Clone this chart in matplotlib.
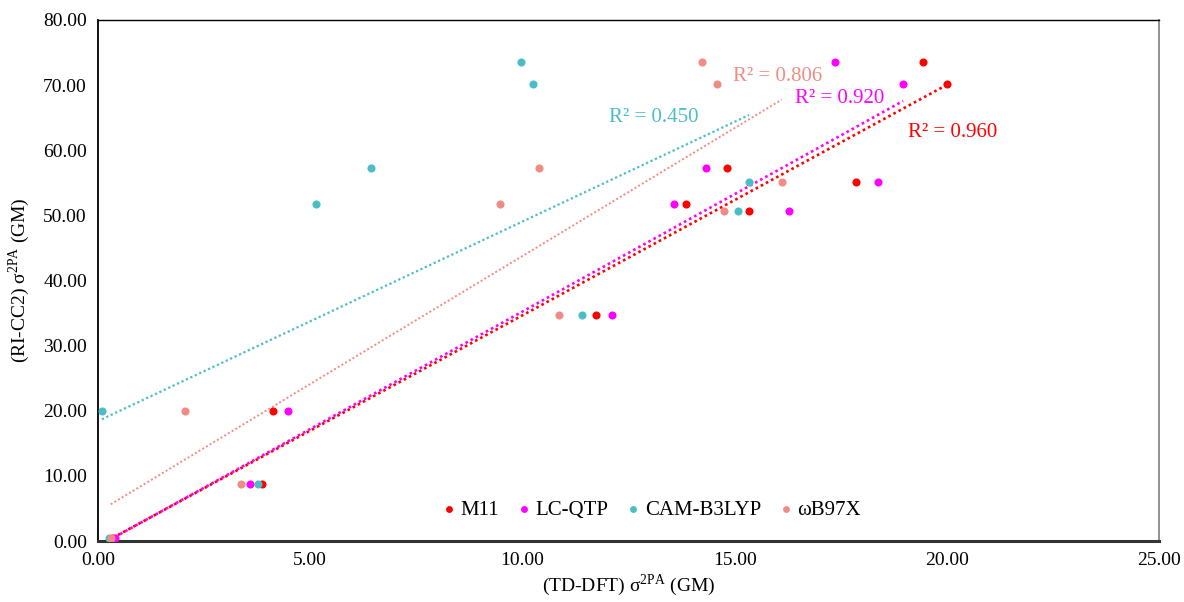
import numpy as np
import matplotlib
matplotlib.use('Agg')
import matplotlib.pyplot as plt

plt.rcParams.update({
    'font.family': 'serif',
    'font.serif': ['Liberation Serif', 'DejaVu Serif'],
    'mathtext.fontset': 'custom',
    'mathtext.rm': 'Liberation Serif',
    'font.size': 14,
})

# RI-CC2 reference values (same for all functionals)
ricc2 = [73.5, 70.2, 57.3, 55.1, 51.8, 50.6, 34.7, 20.0, 8.7, 0.4]

# TD-DFT values per functional
m11 = [19.45, 20.00, 14.82, 17.85, 13.86, 15.35, 11.74, 4.13, 3.87, 0.35]
lcqtp = [17.37, 18.97, 14.32, 18.37, 13.56, 16.27, 12.12, 4.47, 3.57, 0.40]
camb3lyp = [9.97, 10.24, 6.43, 15.34, 5.14, 15.09, 11.41, 0.09, 3.76, 0.26]
wb97x = [14.22, 14.58, 10.39, 16.11, 9.46, 14.75, 10.87, 2.05, 3.38, 0.30]

names = ['M11', 'LC-QTP', 'CAM-B3LYP', 'ωB97X']
r2_text = ['0.960', '0.920', '0.450', '0.806']
r2_pos = [(19.08, 62.7), (16.42, 67.9), (12.04, 65.1), (14.96, 71.3)]
colors = ['#FF0000', '#FF00FF', '#4ABDC6', '#F08C84']
trend_lw = [1.9, 1.9, 1.6, 1.4]

fig = plt.figure(figsize=(11.84, 6.02), dpi=100)
ax = fig.add_axes([0.0828, 0.1013, 0.8961, 0.8655])

series = [m11, lcqtp, camb3lyp, wb97x]
for xs, name, c, lw in zip(series, names, colors, trend_lw):
    x = np.array(xs)
    y = np.array(ricc2)
    ax.scatter(x, y, s=34, color=c, label=name, zorder=3, linewidths=0)
    k, b = np.polyfit(x, y, 1)
    xx = np.array([x.min(), x.max()])
    ax.plot(xx, k * xx + b, linestyle=(0, (1, 1.2)), color=c, lw=lw, zorder=2)

for txt, (px, py), c in zip(r2_text, r2_pos, colors):
    ax.text(px, py, f'R² = {txt}', color=c, fontsize=15, ha='left', va='center')

ax.set_xlim(0, 25)
ax.set_ylim(0, 80)
ax.set_xticks(np.arange(0, 26, 5))
ax.set_yticks(np.arange(0, 81, 10))
ax.xaxis.set_major_formatter(matplotlib.ticker.FormatStrFormatter('%.2f'))
ax.yaxis.set_major_formatter(matplotlib.ticker.FormatStrFormatter('%.2f'))
ax.tick_params(length=0, labelsize=14, pad=8)

ax.spines['bottom'].set_linewidth(2.2)
ax.spines['bottom'].set_color('#333333')
ax.spines['left'].set_linewidth(1.3)
ax.spines['top'].set_linewidth(1.0)
ax.spines['right'].set_linewidth(1.3)
ax.spines['right'].set_color('#888888')

ax.set_xlabel('(TD-DFT) σ$^{\\mathrm{2PA}}$ (GM)', fontsize=14, labelpad=2)
ax.set_ylabel('(RI-CC2) σ$^{\\mathrm{2PA}}$ (GM)', fontsize=14, labelpad=8)

ax.legend(loc='center', bbox_to_anchor=(0.52, 0.06), ncol=4, frameon=False,
          handletextpad=0.05, columnspacing=0.7, markerscale=0.85, fontsize=15,
          handlelength=1.0)

fig.savefig('out.png', dpi=100)
